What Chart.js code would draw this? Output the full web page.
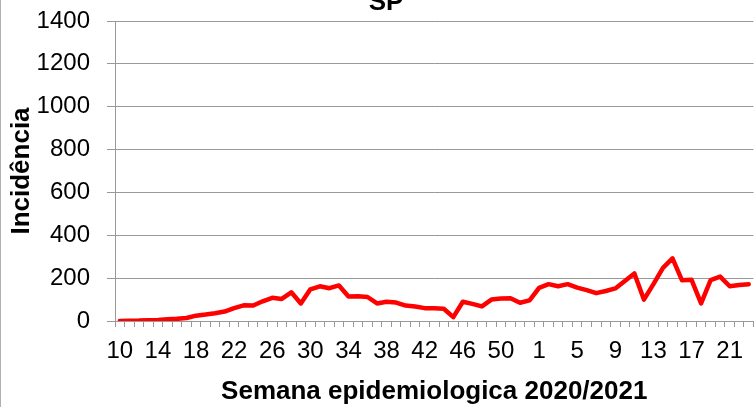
<!DOCTYPE html>
<html>
<head>
<meta charset="utf-8">
<script src="https://cdn.jsdelivr.net/npm/chart.js@4/dist/chart.umd.min.js"></script>
<style>
  html, body { margin: 0; padding: 0; background: #fff; }
  #wrap { width: 755px; height: 407px; position: relative; }
</style>
</head>
<body>
<div id="wrap"><canvas id="c" width="755" height="407"></canvas></div>
<script>
const chartTitle = 'SP';
const xAxisTitle = 'Semana epidemiologica 2020/2021';
const yAxisTitle = 'Incidência';
const weeks = [10,11,12,13,14,15,16,17,18,19,20,21,22,23,24,25,26,27,28,29,30,31,32,33,34,35,36,37,38,39,40,41,42,43,44,45,46,47,48,49,50,51,52,53,
               1,2,3,4,5,6,7,8,9,10,11,12,13,14,15,16,17,18,19,20,21,22,23];
const incidence = [0,1,2,4,5,8,10,14,25,30,36,44,60,73,72,92,108,103,134,82,148,162,153,166,114,115,112,82,90,86,72,68,60,59,57,18,90,80,68,100,105,106,85,96,
                   155,172,162,172,156,144,130,140,152,187,222,100,172,248,292,190,192,82,191,207,162,168,172];
const yTicks = [0,200,400,600,800,1000,1200,1400];
const labelEvery = 4;

const FONT = "'Liberation Sans', Arial, sans-serif";
const GRID = '#999999';

const decorPlugin = {
  id: 'decor',
  afterDraw(chart) {
    const ctx = chart.ctx;
    ctx.save();
    ctx.strokeStyle = '#b0b0b0';
    ctx.lineWidth = 1;
    ctx.beginPath();
    ctx.moveTo(0.5, 0);
    ctx.lineTo(0.5, chart.height);
    ctx.stroke();
    ctx.fillStyle = '#000';
    ctx.font = "bold 26px " + FONT;
    ctx.textAlign = 'center';
    ctx.textBaseline = 'alphabetic';
    ctx.fillText(chartTitle, 386, 10);
    ctx.restore();
  }
};

new Chart(document.getElementById('c'), {
  type: 'line',
  data: {
    labels: weeks.map(String),
    datasets: [{
      data: incidence,
      borderColor: '#ff0000',
      backgroundColor: '#ff0000',
      borderWidth: 4.5,
      borderJoinStyle: 'round',
      borderCapStyle: 'round',
      pointRadius: 0,
      tension: 0,
      fill: false
    }]
  },
  options: {
    responsive: false,
    animation: false,
    devicePixelRatio: 1,
    layout: { padding: { left: 0, right: 1.5, top: 21, bottom: 0 } },
    plugins: {
      legend: { display: false },
      tooltip: { enabled: false },
      title: { display: false }
    },
    scales: {
      x: {
        type: 'category',
        offset: true,
        afterFit: function(scale) { scale.paddingLeft = 0; scale.paddingRight = 0; },
        grid: {
          display: true,
          drawOnChartArea: false,
          offset: true,
          tickLength: 6,
          color: GRID,
          lineWidth: 1
        },
        border: { display: true, color: GRID, width: 1 },
        ticks: {
          autoSkip: false,
          maxRotation: 0,
          minRotation: 0,
          padding: 10,
          color: '#000',
          font: { family: FONT, size: 24 },
          callback: function(v, i) { return i % labelEvery === 0 ? String(weeks[i]) : ''; }
        },
        title: {
          display: true,
          text: xAxisTitle,
          color: '#000',
          font: { family: FONT, size: 26, weight: 'bold' },
          padding: { top: 0, bottom: 0 }
        }
      },
      y: {
        min: 0,
        max: 1400,
        afterBuildTicks: function(scale) { scale.ticks = yTicks.map(v => ({ value: v })); },
        afterFit: function(scale) { scale.width = 115; scale.paddingTop = 0; scale.paddingBottom = 0; },
        grid: {
          display: true,
          drawOnChartArea: true,
          tickLength: 8,
          color: GRID,
          lineWidth: 1
        },
        border: { display: true, color: GRID, width: 1 },
        ticks: {
          padding: 17,
          color: '#000',
          font: { family: FONT, size: 24 },
          callback: function(v) { return String(v); }
        },
        title: {
          display: true,
          text: yAxisTitle,
          color: '#000',
          font: { family: FONT, size: 26, weight: 'bold' },
          padding: { top: 6, bottom: 0 }
        }
      }
    }
  },
  plugins: [decorPlugin]
});
</script>
</body>
</html>
